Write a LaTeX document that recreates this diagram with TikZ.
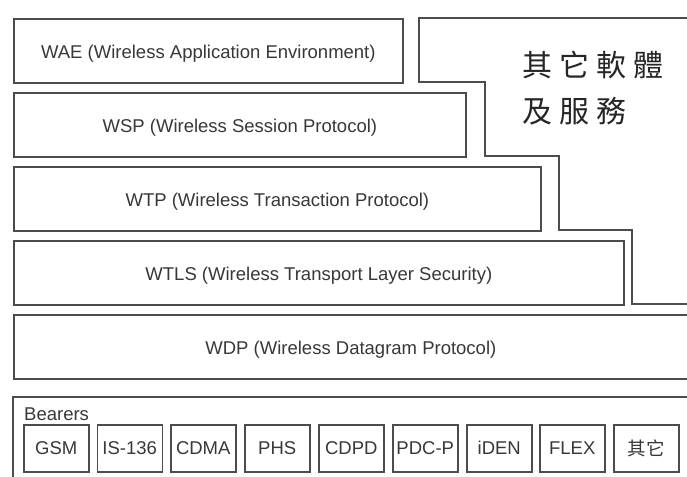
\documentclass[tikz,border=0pt]{standalone}
\usepackage{fontspec}
\setmainfont{Liberation Sans}
\newfontfamily\cjk{Noto Sans CJK TC}
\definecolor{edge}{HTML}{4C4C4C}
\definecolor{ink}{HTML}{383838}
\begin{document}
\begin{tikzpicture}[x=1pt,y=-1pt,
  frame/.style={draw=edge, line width=1.7pt},
  layer/.style={frame, anchor=north west, inner sep=0pt, minimum height=64pt,
    text=ink, text height=18pt, text depth=2pt,
    font=\fontsize{18.5}{22}\selectfont},
  bearer/.style={draw=edge, line width=1.5pt, anchor=north west, inner sep=0pt,
    minimum width=65pt, minimum height=47pt, text=ink,
    font=\fontsize{18.5}{22}\selectfont},
  bigcjk/.style={anchor=west, inner sep=0pt, text=black!85,
    font=\cjk\fontsize{30}{34}\selectfont}]
\useasboundingbox (0,0) rectangle (687,476);
\fill[white] (0,0) rectangle (687,476);
\clip (0,0) rectangle (687,476);

% protocol stack
\node[layer, minimum width=389pt] (wae)  at (13,18)  {WAE (Wireless Application Environment)};
\node[layer, minimum width=452pt] (wsp)  at (13,92)  {WSP (Wireless Session Protocol)};
\node[layer, minimum width=527pt] (wtp)  at (13,166) {WTP (Wireless Transaction Protocol)};
\node[layer, minimum width=610pt] (wtls) at (13,240) {WTLS (Wireless Transport Layer Security)};
\node[layer, minimum width=674pt] (wdp)  at (13,314) {WDP (Wireless Datagram Protocol)};

% stepped block for other software and services
\draw[frame] (419,18) -- (695,18) -- (695,304) -- (632,304) -- (632,230)
  -- (559,230) -- (559,156) -- (485,156) -- (485,82) -- (419,82) -- cycle;
\node[bigcjk] (other1) at (522,65)  {其\hspace{7pt}它\hspace{7pt}軟\hspace{7pt}體};
\node[bigcjk] (other2) at (522,111) {及\hspace{7pt}服\hspace{7pt}務};

% bearers
\draw[frame] (13,397) rectangle (695,485);
\node[anchor=base west, inner sep=0pt, text=ink, font=\fontsize{18.5}{22}\selectfont]
  (bearlbl) at (24,420) {Bearers};
\node[bearer] (gsm)   at (23,424)  {GSM};
\node[bearer] (is136) at (96.5,424)  {IS-136};
\node[bearer] (cdma)  at (170,424) {CDMA};
\node[bearer] (phs)   at (244,424) {PHS};
\node[bearer] (cdpd)  at (318,424) {CDPD};
\node[bearer] (pdcp)  at (392,424) {PDC-P};
\node[bearer] (iden)  at (466,424) {iDEN};
\node[bearer] (flex)  at (539,424) {FLEX};
\node[bearer, font=\cjk\fontsize{18.5}{22}\selectfont] (etc) at (613,424) {其它};
\end{tikzpicture}
\end{document}
